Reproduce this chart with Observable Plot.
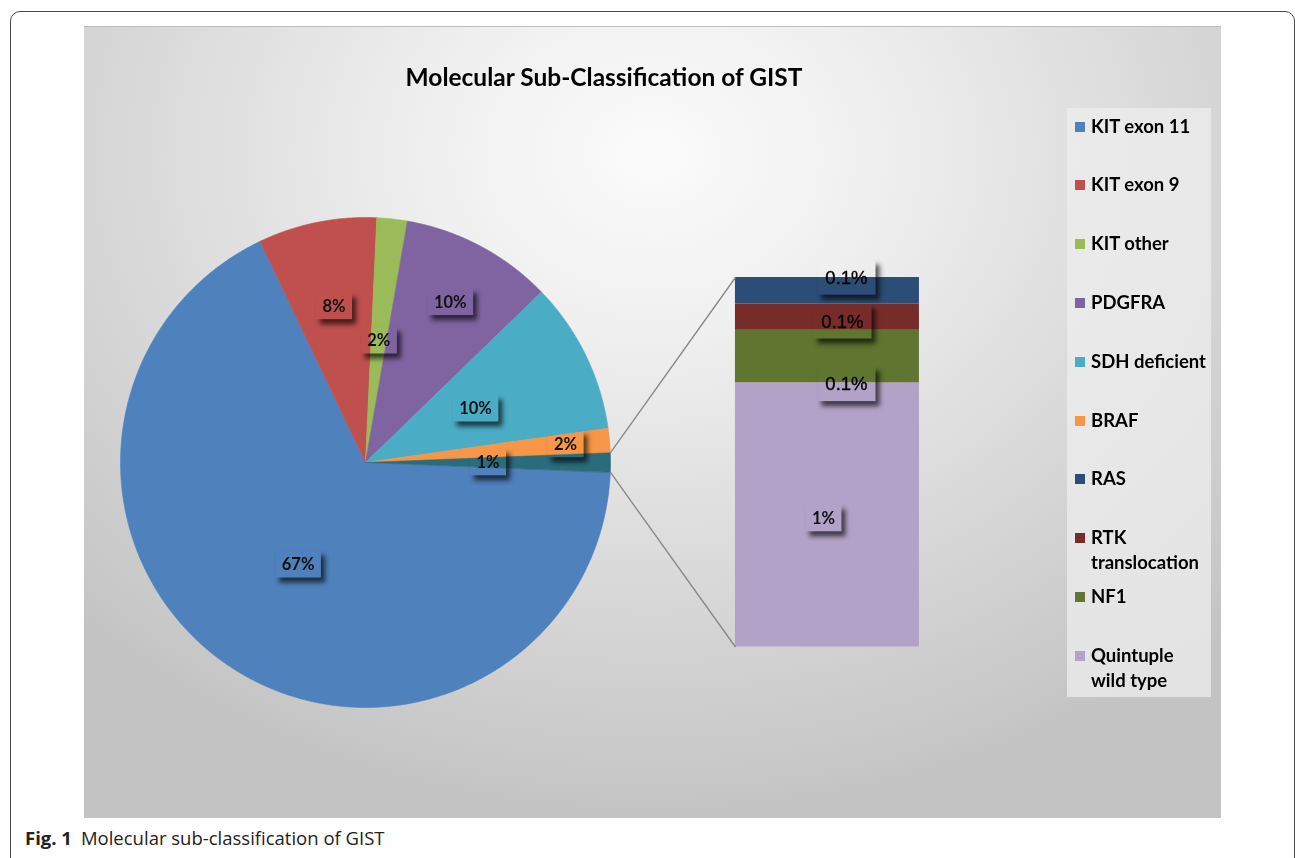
<!DOCTYPE html>
<html>
<head>
<meta charset="utf-8">
<script src="https://cdn.jsdelivr.net/npm/d3@7"></script>
<script src="https://cdn.jsdelivr.net/npm/@observablehq/plot@0.6"></script>
<style>
  html, body { margin: 0; padding: 0; width: 1295px; height: 858px; overflow: hidden; background: #fff; }
  #frame { position: absolute; left: 10px; top: 11px; width: 1285px; height: 900px; border: 1.3px solid #4a4a4a; border-radius: 10px; box-sizing: border-box; }
  #panel { position: absolute; left: 84px; top: 26px; width: 1137px; height: 792px;
    background: radial-gradient(ellipse 72% 85% at 50% 16%, #fbfbfb 0%, #efefef 28%, #dadada 62%, #c3c3c3 100%);
    border-top: 1px solid #bdbdbd; box-sizing: border-box; }
  #chart { position: absolute; left: 84px; top: 26px; }
  #title { position: absolute; left: 304px; width: 600px; top: 62px; text-align: center;
    font-family: Lato, "Open Sans", sans-serif; font-weight: 700; font-size: 24.5px; color: #000; }
  #legend { position: absolute; left: 1067px; top: 108px; width: 144px; height: 589px; background: rgba(238,238,238,0.75); }
  .lg { position: absolute; left: 8px; font-family: Lato, "Open Sans", sans-serif; font-weight: 700; font-size: 18.5px; line-height: 25px; color: #000; }
  .lg .sw { position: absolute; left: 0; top: 8px; width: 10px; height: 10px; }
  .lg .tx { position: absolute; left: 16px; top: 0; white-space: nowrap; }
  #caption { position: absolute; left: 25px; top: 825px; font-family: "Open Sans", "Noto Sans", sans-serif; font-size: 18.5px; color: #222; white-space: nowrap; }
  #caption b { font-weight: 700; margin-right: 9px; }
</style>
</head>
<body>
<div id="frame"></div>
<div id="panel"></div>
<div id="chart"></div>
<div id="title">Molecular Sub-Classification of GIST</div>
<div id="legend"></div>
<div id="caption"><b>Fig. 1</b>Molecular sub-classification of GIST</div>
<script>
// ---- data ----
const pieNames = ["KIT exon 11", "KIT exon 9", "KIT other", "PDGFRA", "SDH deficient", "BRAF"];
const pieValues = [67.2, 7.8, 2.0, 10.0, 10.0, 1.6];
const pieLabels = ["67%", "8%", "2%", "10%", "10%", "2%"];
const otherName = "Other";
const otherLabel = "1%";
const barNames = ["RAS", "RTK translocation", "NF1", "Quintuple wild type"];
const barValues = [0.09, 0.09, 0.18, 0.90];
const barLabels = ["0.1%", "0.1%", "0.1%", "1%"];
const legendNames = ["KIT exon 11", "KIT exon 9", "KIT other", "PDGFRA", "SDH deficient", "BRAF", "RAS", "RTK translocation", "NF1", "Quintuple wild type"];
const legendText = ["KIT exon 11", "KIT exon 9", "KIT other", "PDGFRA", "SDH deficient", "BRAF", "RAS", "RTK<br>translocation", "NF1", "Quintuple<br>wild type"];
const colorDomain = ["KIT exon 11", "KIT exon 9", "KIT other", "PDGFRA", "SDH deficient", "BRAF", "Other", "RAS", "RTK translocation", "NF1", "Quintuple wild type"];
const colorRange = ["#4F81BD", "#C0504D", "#9BBB59", "#8064A2", "#4BACC6", "#F79646", "#2B6C7C", "#2C4D75", "#772C2A", "#5F7530", "#B3A2C7"];

// ---- layout constants (pie units: radius = 1, 245 px) ----
const PX = 245;
const BX1 = 1.51, BX2 = 2.261, BTOP = 0.755, BBOT = -0.753;
const labelRadius = [0.5, 0.65, 0.5, 0.74, 0.5, 0.82, 0.5];
const barLabelDx = [19, 15, 19, -4];
const barLabelDy = [-13, 4.5, 27.5, 3.5];

// ---- derived geometry ----
const otherValue = d3.sum(barValues);
const names = [...pieNames, otherName];
const values = [...pieValues, otherValue];
const labels = [...pieLabels, otherLabel];
const total = d3.sum(values);
const degPer = 360 / total;
let ang = 90 + otherValue * degPer / 2;
const slices = values.map((v, i) => {
  const a0 = ang; ang += v * degPer;
  return {name: names[i], a0, a1: ang, label: labels[i], r: labelRadius[i]};
});
const rad = a => a * Math.PI / 180;
const slicePts = [];
for (const s of slices) {
  slicePts.push({name: s.name, x: 0, y: 0});
  const n = Math.max(2, Math.ceil((s.a1 - s.a0) / 0.4));
  for (let k = 0; k <= n; k++) {
    const a = rad(s.a0 + (s.a1 - s.a0) * k / n);
    slicePts.push({name: s.name, x: Math.sin(a), y: Math.cos(a)});
  }
}
const pieText = slices.map(s => {
  const m = rad((s.a0 + s.a1) / 2);
  return {x: s.r * Math.sin(m), y: s.r * Math.cos(m), label: s.label};
});
const barH = BTOP - BBOT;
let cum = BTOP;
const barData = barNames.map((n, i) => {
  const h = barValues[i] / otherValue * barH;
  const d = {name: n, y2: cum, y1: cum - h, label: barLabels[i],
    lx: (BX1 + BX2) / 2 + barLabelDx[i] / PX, ly: cum - h / 2 - barLabelDy[i] / PX};
  cum -= h;
  return d;
});
const aTop = rad(90 - otherValue * degPer / 2), aBot = rad(90 + otherValue * degPer / 2);
const links = [
  {x1: Math.sin(aTop), y1: Math.cos(aTop), x2: BX1, y2: BTOP},
  {x1: Math.sin(aBot), y1: Math.cos(aBot), x2: BX1, y2: BBOT}
];
const smallBar = barData.filter(d => d.label !== "1%");
const bigBar = barData.filter(d => d.label === "1%");

const W = 1137, H = 792;
const CX = 281, CY = 436;
const chart = Plot.plot({
  width: W, height: H, margin: 0,
  style: {background: "transparent", overflow: "visible"},
  x: {domain: [-1, 1], range: [CX - PX, CX + PX], axis: null},
  y: {domain: [-1, 1], range: [CY + PX, CY - PX], axis: null},
  color: {type: "ordinal", domain: colorDomain, range: colorRange},
  marks: [
    Plot.line(slicePts, {x: "x", y: "y", z: "name", fill: "name", stroke: "name", strokeWidth: 0.6, curve: "linear-closed"}),
    Plot.rect(barData, {x1: d => BX1, x2: d => BX2, y1: "y1", y2: "y2", fill: "name"}),
    Plot.link(links, {x1: "x1", y1: "y1", x2: "x2", y2: "y2", stroke: "#8a8a8a", strokeWidth: 1.4}),
    Plot.text(pieText, {x: "x", y: "y", text: "label", fontFamily: "Lato, 'Open Sans', sans-serif", fontWeight: 700, fontSize: 16.5, fill: "#111"}),
    Plot.text(smallBar, {x: "lx", y: "ly", text: "label",
      fontFamily: "'Liberation Sans', Arial, sans-serif", fontWeight: 400, fontSize: 18.5, fill: "#000",
      stroke: "#000", strokeWidth: 0.35}),
    Plot.text(bigBar, {x: "lx", y: "ly", text: "label",
      fontFamily: "Lato, 'Open Sans', sans-serif", fontWeight: 700, fontSize: 16.5, fill: "#111"})
  ]
});
document.getElementById("chart").appendChild(chart);

// transparent label boxes with drop shadows (shadow masked out of the box itself)
const svg = d3.select(chart);
const textGroups = chart.querySelectorAll('g[aria-label="text"]');
const sr = chart.getBoundingClientRect();
const boxes = [];
textGroups.forEach((g, gi) => {
  g.querySelectorAll("text").forEach(t => {
    const b = t.getBoundingClientRect();
    const px = gi === 1 ? 8 : 6.5, py = gi === 1 ? 7 : 3.5;
    boxes.push({x: b.left - sr.left - px, y: b.top - sr.top - py, w: b.width + 2 * px, h: b.height + 2 * py});
  });
});
const defs = svg.insert("defs", ":first-child");
const f = defs.append("filter").attr("id", "blur").attr("x", "-50%").attr("y", "-50%").attr("width", "200%").attr("height", "200%");
f.append("feGaussianBlur").attr("stdDeviation", 2.8);
const mask = defs.append("mask").attr("id", "boxmask").attr("maskUnits", "userSpaceOnUse")
  .attr("x", 0).attr("y", 0).attr("width", W).attr("height", H);
mask.append("rect").attr("x", 0).attr("y", 0).attr("width", W).attr("height", H).attr("fill", "white");
mask.selectAll("rect.b").data(boxes).join("rect").attr("class", "b")
  .attr("x", d => d.x).attr("y", d => d.y).attr("width", d => d.w).attr("height", d => d.h).attr("fill", "black");
const shadowG = document.createElementNS("http://www.w3.org/2000/svg", "g");
chart.insertBefore(shadowG, textGroups[0]);
d3.select(shadowG).attr("mask", "url(#boxmask)").selectAll("rect").data(boxes).join("rect")
  .attr("x", d => d.x + 4).attr("y", d => d.y + 5).attr("width", d => d.w).attr("height", d => d.h)
  .attr("fill", "#000").attr("fill-opacity", 0.65).attr("filter", "url(#blur)");

// legend
const lg = document.getElementById("legend");
legendNames.forEach((n, i) => {
  const c = colorRange[colorDomain.indexOf(n)];
  const div = document.createElement("div");
  div.className = "lg";
  div.style.top = (126 - 108 - 12.5 + i * 58.8) + "px";
  div.innerHTML = `<span class="sw" style="background:${c}"></span><span class="tx">${legendText[i]}</span>`;
  lg.appendChild(div);
});
</script>
</body>
</html>
